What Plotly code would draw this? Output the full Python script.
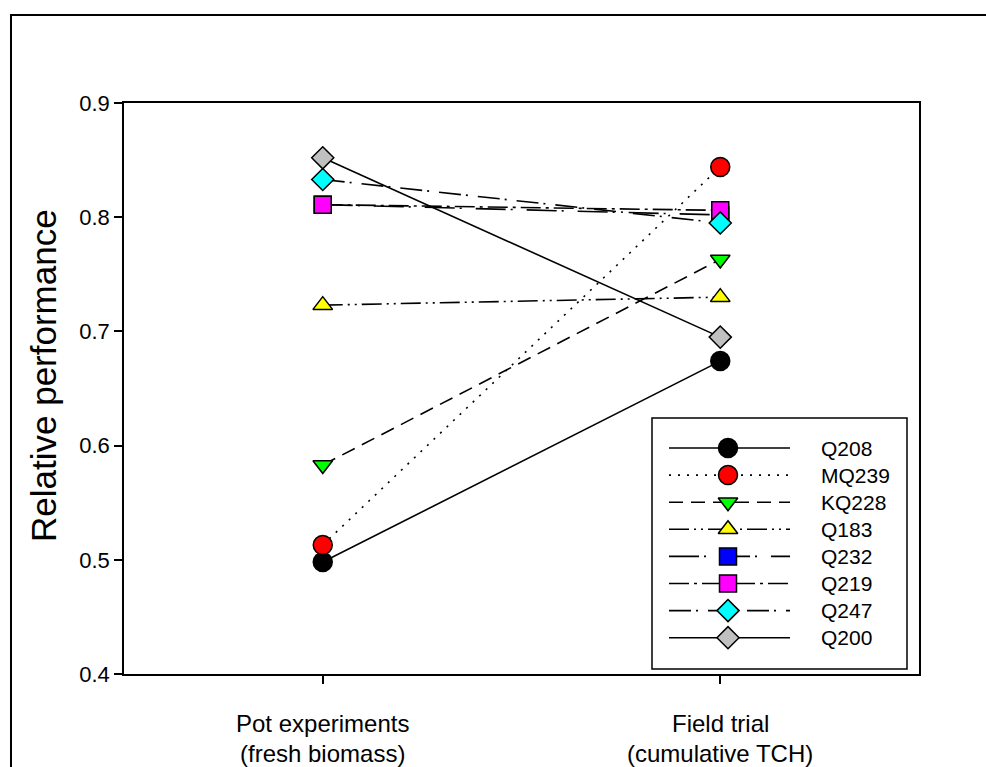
import plotly.graph_objects as go

# ---------------- data ----------------
stage_line1 = ["Pot experiments", "Field trial"]
stage_line2 = ["(fresh biomass)", "(cumulative TCH)"]
stage_pos = [0, 1]

cultivars = ["Q208", "MQ239", "KQ228", "Q183", "Q232", "Q219", "Q247", "Q200"]
pot_values = [0.498, 0.513, 0.583, 0.723, 0.811, 0.811, 0.833, 0.852]
field_values = [0.674, 0.844, 0.763, 0.730, 0.802, 0.806, 0.795, 0.695]

y_ticks = [0.4, 0.5, 0.6, 0.7, 0.8, 0.9]

# ---------------- styles ----------------
colors = ["#000000", "#FF0000", "#00FF00", "#FFFF00", "#0000FF", "#FF00FF", "#00FFFF", "#C0C0C0"]
symbols = ["circle", "circle", "triangle-down", "triangle-up", "square", "square", "diamond", "diamond"]
msizes = [19, 19, 17, 17, 17, 17, 17, 17]
dashes = ["solid", "2px,7px", "14px,8px", "20px,5px,2px,5px,2px,5px",
          "30px,5px,2px,14px", "20px,5px,3px,5px", "22px,5px,2px,10px", "solid"]

W, H = 986, 767
L, R, T, B = 124, 67, 103, 93
PW, PH = W - L - R, H - T - B

def px_x(x):
    return (x - L) / PW

def px_y(y):
    return (H - B - y) / PH

fig = go.Figure()

for i, name in enumerate(cultivars):
    fig.add_trace(go.Scatter(
        x=stage_pos, y=[pot_values[i], field_values[i]],
        mode="lines+markers", name=name, showlegend=False,
        line=dict(color="black", width=1.6, dash=dashes[i]),
        marker=dict(symbol=symbols[i], size=msizes[i], color=colors[i],
                    line=dict(color="black", width=1.5)),
    ))

# ---------------- custom legend (own axes, pixel units) ----------------
leg_x0, leg_x1, leg_y0, leg_y1 = 652, 907, 418, 669
row0, row_step = 448, 27.1
line_x0, line_x1, mark_x, text_x = 669, 790, 728, 820

font_family = "Liberation Sans, Arial, sans-serif"

for i, name in enumerate(cultivars):
    yy = row0 + i * row_step
    fig.add_trace(go.Scatter(
        x=[line_x0, line_x1], y=[yy, yy], mode="lines", showlegend=False,
        xaxis="x2", yaxis="y2", hoverinfo="skip",
        line=dict(color="black", width=1.6, dash=dashes[i]),
    ))
    fig.add_trace(go.Scatter(
        x=[mark_x], y=[yy], mode="markers", showlegend=False,
        xaxis="x2", yaxis="y2", hoverinfo="skip",
        marker=dict(symbol=symbols[i], size=msizes[i], color=colors[i],
                    line=dict(color="black", width=1.5)),
    ))
    fig.add_annotation(x=text_x, y=yy, xref="x2", yref="y2", text=name,
                       showarrow=False, xanchor="left", yanchor="middle", borderpad=0,
                       font=dict(size=21, color="black", family=font_family))

shapes = [
    # outer frame
    dict(type="rect", xref="paper", yref="paper",
         x0=px_x(11), x1=px_x(1000), y0=px_y(790), y1=px_y(15),
         line=dict(color="black", width=2)),
    # legend box
    dict(type="rect", xref="paper", yref="paper",
         x0=px_x(leg_x0), x1=px_x(leg_x1), y0=px_y(leg_y1), y1=px_y(leg_y0),
         line=dict(color="black", width=1.5), fillcolor="rgba(0,0,0,0)"),
]

annotations = list(fig.layout.annotations)
for i in range(len(stage_pos)):
    annotations.append(dict(x=stage_pos[i], y=px_y(723), xref="x", yref="paper",
                            text=stage_line1[i], showarrow=False, yanchor="middle",
                            borderpad=0,
                            font=dict(size=24, color="black", family=font_family)))
    annotations.append(dict(x=stage_pos[i], y=px_y(753), xref="x", yref="paper",
                            text=stage_line2[i], showarrow=False, yanchor="middle",
                            borderpad=0,
                            font=dict(size=24, color="black", family=font_family)))
annotations.append(dict(x=px_x(43), y=px_y(376), xref="paper", yref="paper",
                        text="Relative performance", showarrow=False, textangle=-90,
                        xanchor="center", yanchor="middle",
                        font=dict(size=35, color="black", family=font_family)))

fig.update_layout(
    width=W, height=H,
    margin=dict(l=L, r=R, t=T, b=B, pad=0),
    paper_bgcolor="white", plot_bgcolor="white",
    font=dict(family=font_family, color="black"),
    xaxis=dict(range=[-0.5, 1.5], tickvals=stage_pos, ticktext=["", ""],
               showticklabels=False, ticks="outside", ticklen=8, tickwidth=1.5,
               tickcolor="black", showline=True, linecolor="black", linewidth=1.5,
               mirror=True, showgrid=False, zeroline=False, fixedrange=True),
    yaxis=dict(range=[0.4, 0.9], tickvals=y_ticks, tickformat=".1f",
               ticks="outside", ticklen=8, tickwidth=1.5, tickcolor="black",
               showline=True, linecolor="black", linewidth=1.5, mirror=True,
               showgrid=False, zeroline=False,
               tickfont=dict(size=22, color="black", family=font_family)),
    xaxis2=dict(domain=[px_x(leg_x0), px_x(leg_x1)], range=[leg_x0, leg_x1],
                visible=False, anchor="y2", showgrid=False, zeroline=False),
    yaxis2=dict(domain=[px_y(leg_y1), px_y(leg_y0)], range=[leg_y1, leg_y0],
                visible=False, anchor="x2", showgrid=False, zeroline=False),
    shapes=shapes,
    annotations=annotations,
    showlegend=False,
)

fig.write_html("out.html")
